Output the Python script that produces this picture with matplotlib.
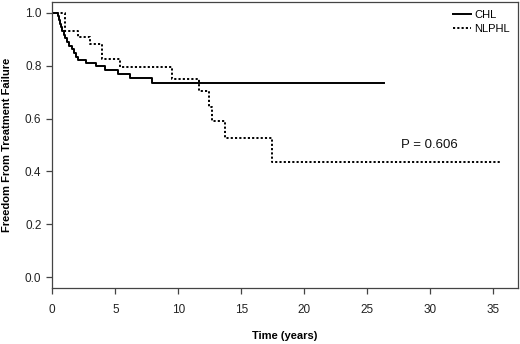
import matplotlib
matplotlib.use("Agg")
import matplotlib.pyplot as plt

plt.rcParams['font.family'] = ['Liberation Sans', 'DejaVu Sans']

# Kaplan-Meier step curves (time in years, survival fraction)
chl_t = [0, 0.45, 0.55, 0.62, 0.7, 0.8, 0.9, 1.0, 1.15, 1.35, 1.55, 1.75,
         1.9, 2.05, 2.65, 3.45, 4.2, 5.25, 6.2, 7.9, 26.35]
chl_s = [1.0, 0.986, 0.972, 0.958, 0.945, 0.931, 0.917, 0.903, 0.889, 0.875,
         0.861, 0.847, 0.833, 0.82, 0.81, 0.797, 0.784, 0.769, 0.752, 0.733, 0.733]

nlphl_t = [0, 1.0, 2.07, 3.0, 3.92, 5.37, 9.52, 11.67, 12.4, 12.65, 13.7, 17.4, 35.5]
nlphl_s = [1.0, 0.93, 0.907, 0.88, 0.824, 0.794, 0.748, 0.703, 0.644, 0.592,
           0.525, 0.437, 0.437]

x_ticks = [0, 5, 10, 15, 20, 25, 30, 35]
y_ticks = [0.0, 0.2, 0.4, 0.6, 0.8, 1.0]
p_label = "P = 0.606"

fig = plt.figure(figsize=(5.2, 3.44), dpi=100)
ax = fig.add_axes([0.1006, 0.163, 0.8954, 0.831])

ax.step(chl_t, chl_s, where='post', color='black', lw=1.4, label='CHL')
ax.step(nlphl_t, nlphl_s, where='post', color='black', lw=1.4,
        linestyle=(0, (1.1, 1.1)), label='NLPHL')

ax.set_xlim(0, 36.96)
ax.set_ylim(-0.04, 1.04)
ax.set_xticks(x_ticks)
ax.set_yticks(y_ticks)
ax.set_yticklabels([f"{v:.1f}" for v in y_ticks])

for s in ax.spines.values():
    s.set_color('#444444')
    s.set_linewidth(0.9)
ax.tick_params(axis='both', colors='#444444', labelcolor='#222222',
               labelsize=8.5, length=4.3, width=0.9)
ax.tick_params(axis='x', pad=7)
ax.tick_params(axis='y', pad=3.5)

ax.set_xlabel('Time (years)', fontsize=8, fontweight='bold', labelpad=11)
ax.set_ylabel('Freedom From Treatment Failure', fontsize=8, fontweight='bold',
              labelpad=9)

ax.text(29.9, 0.50, p_label, fontsize=9.5, ha='center', va='center',
        color='#111111')

ax.legend(loc='upper right', frameon=False, fontsize=8, handlelength=1.6,
          handletextpad=0.35, labelspacing=0.35, borderaxespad=0.3)

fig.savefig('out.png', dpi=100)
